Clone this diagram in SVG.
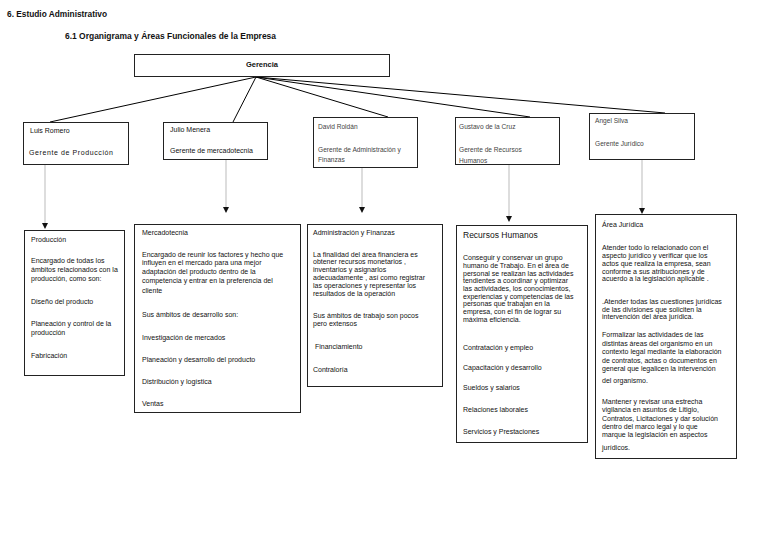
<svg xmlns="http://www.w3.org/2000/svg" width="768" height="543" viewBox="0 0 768 543">
<style>
text{font-family:"Liberation Sans",Arial,sans-serif;fill:#111;}
.title{font-weight:bold;font-size:8.5px;}
.box{fill:#fff;stroke:#222;stroke-width:1;}
.t{font-size:7px;}
.tl{font-size:6.6px;fill:#444;}
.b{font-size:7px;}
.h{font-size:8.5px;}
.edge{stroke:#000;stroke-width:1;fill:none;}
.drop{stroke:#bbb;stroke-width:1;fill:none;}
</style>
<defs>
<marker id="arr" markerWidth="6" markerHeight="6" refX="5" refY="3" orient="auto" markerUnits="userSpaceOnUse">
<path d="M0,0 L6,3 L0,6 Z" fill="#111"/>
</marker>
<clipPath id="clipG"><rect x="455" y="117" width="105" height="47"/></clipPath>
</defs>
<rect width="768" height="543" fill="#fff"/>
<text class="title" x="7" y="17" textLength="100" lengthAdjust="spacingAndGlyphs">6. Estudio Administrativo</text>
<text class="title" x="65" y="39" textLength="211" lengthAdjust="spacingAndGlyphs">6.1 Organigrama y Áreas Funcionales de  la Empresa</text>

<g id="connectors">
<line class="edge" x1="256" y1="77" x2="50" y2="122"/>
<line class="edge" x1="256" y1="77" x2="233" y2="122" stroke="#555"/>
<line class="edge" x1="256" y1="77" x2="388" y2="117"/>
<line class="edge" x1="256" y1="77" x2="530" y2="117"/>
<line class="edge" x1="256" y1="77" x2="665" y2="113"/>
<line class="drop" x1="45" y1="164" x2="45" y2="228" marker-end="url(#arr)"/>
<line class="drop" x1="226" y1="159" x2="226" y2="212" marker-end="url(#arr)"/>
<line class="drop" x1="362" y1="167" x2="362" y2="212" marker-end="url(#arr)"/>
<line class="drop" x1="509" y1="164" x2="509" y2="221" marker-end="url(#arr)"/>
<line class="drop" x1="642" y1="159" x2="642" y2="213" marker-end="url(#arr)"/>
</g>

<g id="gerencia">
<rect class="box" x="134.5" y="54.5" width="255" height="22"/>
<text x="262" y="67" font-size="7.5" font-weight="bold" text-anchor="middle">Gerencia</text>
</g>

<g id="luis">
<rect class="box" x="23.5" y="122.5" width="105" height="42"/>
<text class="t" x="30" y="133">Luis Romero</text>
<text class="t" x="29" y="155" font-size="7.5" letter-spacing="0.6">Gerente de Producción</text>
</g>

<g id="julio">
<rect class="box" x="163.5" y="122.5" width="104" height="37"/>
<text class="t" x="170" y="132">Julio Menera</text>
<text class="t" x="170" y="153">Gerente de mercadotecnia</text>
</g>

<g id="david">
<rect class="box" x="313.5" y="117.5" width="104" height="50"/>
<text class="tl" x="318" y="129">David  Roldán</text>
<text class="tl" x="318" y="152">Gerente de Administración y</text>
<text class="tl" x="318" y="162">Finanzas</text>
</g>

<g id="gustavo">
<rect class="box" x="455.5" y="117.5" width="104" height="47"/>
<text class="tl" x="459" y="129">Gustavo de la Cruz</text>
<text class="tl" x="459" y="152">Gerente de Recursos</text>
<text class="tl" x="459" y="163" clip-path="url(#clipG)">Humanos</text>
</g>

<g id="angel">
<rect class="box" x="589.5" y="113.5" width="105" height="46"/>
<text class="tl" x="595" y="123">Angel Silva</text>
<text class="tl" x="595" y="146">Gerente Jurídico</text>
</g>

<g id="produccion">
<rect class="box" x="24.5" y="230.5" width="100" height="145"/>
<text class="b" x="31" y="242">Producción</text>
<text class="b" x="31" y="263">Encargado de todas los</text>
<text class="b" x="31" y="272">ámbitos relacionados con la</text>
<text class="b" x="31" y="281">producción, como son:</text>
<text class="b" x="31" y="304">Diseño del producto</text>
<text class="b" x="31" y="326">Planeación y control de la</text>
<text class="b" x="31" y="335">producción</text>
<text class="b" x="31" y="358">Fabricación</text>
</g>

<g id="mercadotecnia">
<rect class="box" x="134.5" y="224.5" width="166" height="188"/>
<text class="b" x="142" y="235">Mercadotecnia</text>
<text class="b" x="142" y="257">Encargado de reunir los factores y hecho que</text>
<text class="b" x="142" y="265">influyen en el mercado para una mejor</text>
<text class="b" x="142" y="274">adaptación del producto dentro de la</text>
<text class="b" x="142" y="283">competencia y entrar en la preferencia del</text>
<text class="b" x="142" y="293">cliente</text>
<text class="b" x="142" y="317">Sus ámbitos de desarrollo son:</text>
<text class="b" x="142" y="340">Investigación de mercados</text>
<text class="b" x="142" y="362">Planeación y desarrollo del producto</text>
<text class="b" x="142" y="384">Distribución y logística</text>
<text class="b" x="142" y="406">Ventas</text>
</g>

<g id="administracion">
<rect class="box" x="307.5" y="224.5" width="135" height="162"/>
<text class="b" x="313" y="235">Administración y Finanzas</text>
<text class="b" x="313" y="257"> La finalidad del área financiera es</text>
<text class="b" x="313" y="264">obtener recursos monetarios ,</text>
<text class="b" x="313" y="272">inventarios y asignarlos</text>
<text class="b" x="313" y="280">adecuadamente , así como registrar</text>
<text class="b" x="313" y="288">las operaciones y representar los</text>
<text class="b" x="313" y="296">resultados de la operación</text>
<text class="b" x="313" y="318">Sus ámbitos de trabajo son pocos</text>
<text class="b" x="313" y="326">pero extensos</text>
<text class="b" x="315" y="349">Financiamiento</text>
<text class="b" x="313" y="372">Contraloría</text>
</g>

<g id="recursos">
<rect class="box" x="456.5" y="225.5" width="131" height="217"/>
<text class="h" x="463" y="238">Recursos Humanos</text>
<text class="b" x="463" y="260">Conseguir y conservar un grupo</text>
<text class="b" x="463" y="268">humano de Trabajo. En el área de</text>
<text class="b" x="463" y="276">personal se realizan las actividades</text>
<text class="b" x="463" y="283">tendientes a coordinar y optimizar</text>
<text class="b" x="463" y="291">las actividades, los conocimientos,</text>
<text class="b" x="463" y="299">experiencias y competencias de las</text>
<text class="b" x="463" y="306">personas que trabajan en la</text>
<text class="b" x="463" y="314">empresa, con el fin de lograr su</text>
<text class="b" x="463" y="322">máxima eficiencia.</text>
<text class="b" x="463" y="350">Contratación y empleo</text>
<text class="b" x="463" y="370">Capacitación y desarrollo</text>
<text class="b" x="463" y="390">Sueldos y salarios</text>
<text class="b" x="463" y="412">Relaciones laborales</text>
<text class="b" x="463" y="434">Servicios y Prestaciones</text>
</g>

<g id="juridica">
<rect class="box" x="595.5" y="214.5" width="141" height="244"/>
<text class="b" x="602" y="227">Área Jurídica</text>
<text class="b" x="602" y="250">Atender todo lo relacionado con el</text>
<text class="b" x="602" y="258">aspecto jurídico y verificar que los</text>
<text class="b" x="602" y="266">actos que realiza la empresa, sean</text>
<text class="b" x="602" y="274">conforme a sus atribuciones y de</text>
<text class="b" x="602" y="281">acuerdo a la legislación aplicable .</text>
<text class="b" x="602" y="304">.Atender todas las cuestiones jurídicas</text>
<text class="b" x="602" y="312">de las divisiones que soliciten la</text>
<text class="b" x="602" y="319">intervención del área jurídica.</text>
<text class="b" x="602" y="337">Formalizar las actividades de las</text>
<text class="b" x="602" y="346">distintas áreas del organismo en un</text>
<text class="b" x="602" y="354">contexto legal mediante la elaboración</text>
<text class="b" x="602" y="363">de contratos, actas o documentos en</text>
<text class="b" x="602" y="371">general que legalicen la intervención</text>
<text class="b" x="602" y="383">del organismo.</text>
<text class="b" x="602" y="404">Mantener y revisar una estrecha</text>
<text class="b" x="602" y="412">vigilancia en asuntos de Litigio,</text>
<text class="b" x="602" y="421">Contratos, Licitaciones y dar solución</text>
<text class="b" x="602" y="429">dentro del marco legal y lo que</text>
<text class="b" x="602" y="437">marque la legislación en aspectos</text>
<text class="b" x="602" y="450">jurídicos.</text>
</g>
</svg>
